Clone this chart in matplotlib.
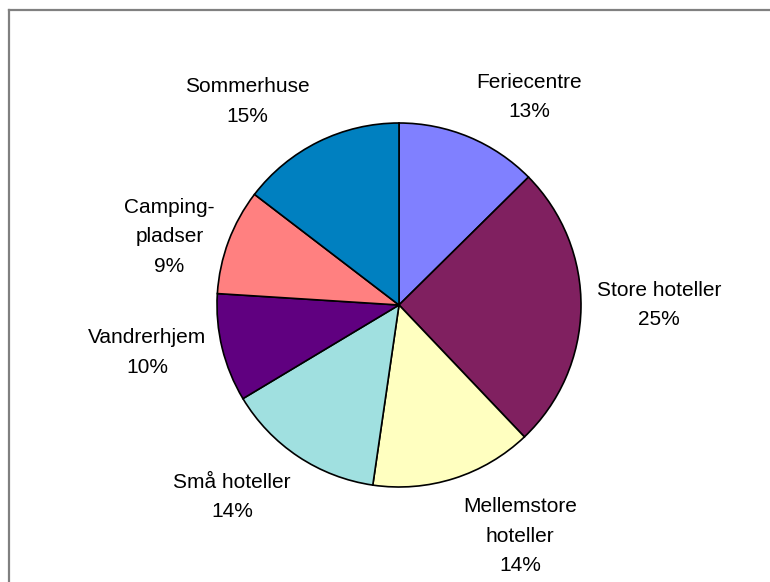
import matplotlib
matplotlib.use("Agg")
import matplotlib.pyplot as plt

# data (andele i procent, aflaest fra figuren)
kategorier = ["Feriecentre", "Store hoteller", "Mellemstore\nhoteller", "Små hoteller",
              "Vandrerhjem", "Camping-\npladser", "Sommerhuse"]
andele = [12.6, 25.3, 14.4, 14.1, 9.6, 9.4, 14.6]
farver = ["#8080FF", "#802060", "#FFFFC0", "#A0E0E0", "#600080", "#FF8080", "#0080C0"]

# placering af etiketter (i radius-enheder, relativt til centrum)
etiket_pos = [(0.717, 1.143), (1.429, 0.0), (0.665, -1.27), (-0.918, -1.055),
              (-1.385, -0.261), (-1.261, 0.374), (-0.835, 1.118)]

plt.rcParams['font.family'] = ['Liberation Sans', 'DejaVu Sans']

fig = plt.figure(figsize=(7.7, 5.82), dpi=100)

# ramme (kun top og venstre side er synlig)
fig.add_artist(plt.Line2D([8.5 / 770, 1], [1 - 9.5 / 582, 1 - 9.5 / 582],
                          transform=fig.transFigure, color="#808080", lw=1.6))
fig.add_artist(plt.Line2D([8.5 / 770, 8.5 / 770], [0, 1 - 9.5 / 582],
                          transform=fig.transFigure, color="#808080", lw=1.6))

cx, cy, r = 399, 305, 182
ax = fig.add_axes([(cx - r) / 770, (582 - cy - r) / 582, 2 * r / 770, 2 * r / 582])
ax.pie(andele, colors=farver, startangle=90, counterclock=False, radius=1,
       wedgeprops=dict(edgecolor="black", linewidth=1.2))
ax.set_xlim(-1, 1)
ax.set_ylim(-1, 1)
ax.set_aspect("equal")
ax.axis("off")

for navn, v, (x, y) in zip(kategorier, andele, etiket_pos):
    tekst = f"{navn}\n{int(v + 0.5)}%"
    ax.text(x, y, tekst, ha="center", va="center", fontsize=15,
            linespacing=1.7, clip_on=False)

fig.savefig("out.png", dpi=100)
